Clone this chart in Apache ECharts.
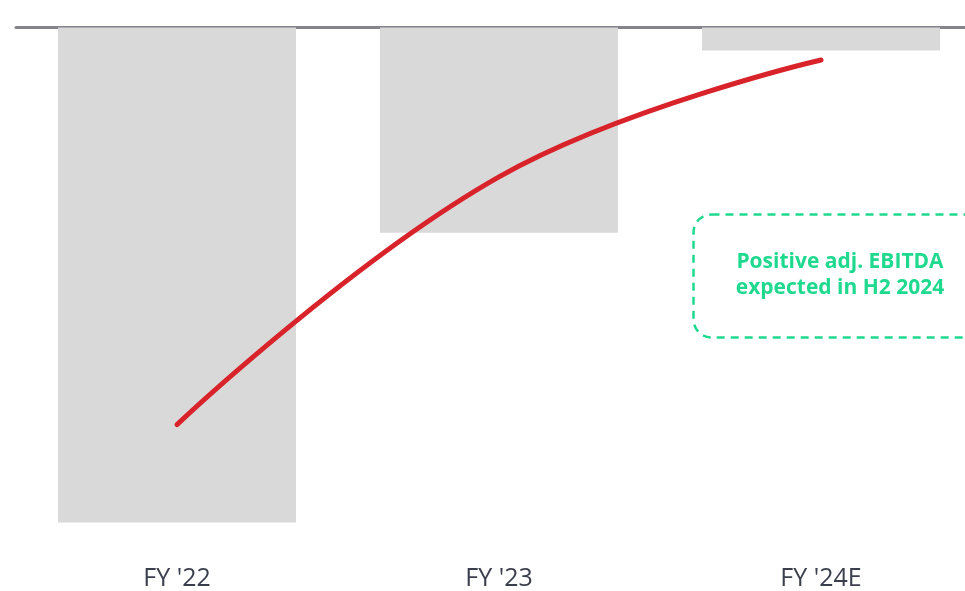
<!DOCTYPE html>
<html>
<head>
<meta charset="utf-8">
<script src="https://cdn.jsdelivr.net/npm/echarts@6/dist/echarts.min.js"></script>
<style>html,body{margin:0;padding:0;background:#fff;overflow:hidden}#c{width:1000px;height:591px}</style>
</head>
<body>
<div id="c"></div>
<script>
const categories = ["FY '22", "FY '23", "FY '24E"];
const barValues = [-99.1, -41.1, -4.6];
const lineValues = [-79.5, -29.9, -6.5];
const noteLines = ["Positive adj. EBITDA", "expected in H2 2024"];

const chart = echarts.init(document.getElementById('c'), null, {renderer: 'canvas', width: 1000, height: 591});
chart.setOption({
  animation: false,
  grid: {left: 16, right: 18, top: 27.5, bottom: 63.5, containLabel: false},
  xAxis: [
    {
      type: 'category', data: categories, position: 'bottom',
      axisLine: {show: false, onZero: false}, axisTick: {show: false},
      axisLabel: {margin: 39, fontFamily: 'Open Sans', fontSize: 25, color: '#3b3f4d'}
    },
    {
      type: 'category', data: categories, position: 'top',
      axisLine: {show: true, onZero: false, lineStyle: {color: '#85838b', width: 3}},
      axisTick: {show: false}, axisLabel: {show: false}
    }
  ],
  yAxis: {type: 'value', min: -100, max: 0, interval: 100, show: false, splitLine: {show: false}},
  series: [
    {
      type: 'bar', data: barValues, barWidth: 238,
      itemStyle: {color: '#d9d9d9'}, z: 1
    },
    {
      type: 'line', data: lineValues, smooth: 0.42, symbol: 'none',
      lineStyle: {color: '#d9232b', width: 5, cap: 'round'}, z: 3
    }
  ],
  graphic: [
    {
      type: 'rect', left: 691, top: 212,
      shape: {width: 300, height: 123, r: 18},
      style: {fill: 'none', stroke: '#1fd98f', lineWidth: 2.5, lineDash: [8, 6]}
    },
    {
      type: 'text', x: 840, y: 262,
      style: {text: noteLines[0], fill: '#1fd98f', font: 'bold 21px "Open Sans"', align: 'center', verticalAlign: 'middle'}
    },
    {
      type: 'text', x: 840, y: 288,
      style: {text: noteLines[1], fill: '#1fd98f', font: 'bold 21px "Open Sans"', align: 'center', verticalAlign: 'middle'}
    }
  ]
});
</script>
</body>
</html>
